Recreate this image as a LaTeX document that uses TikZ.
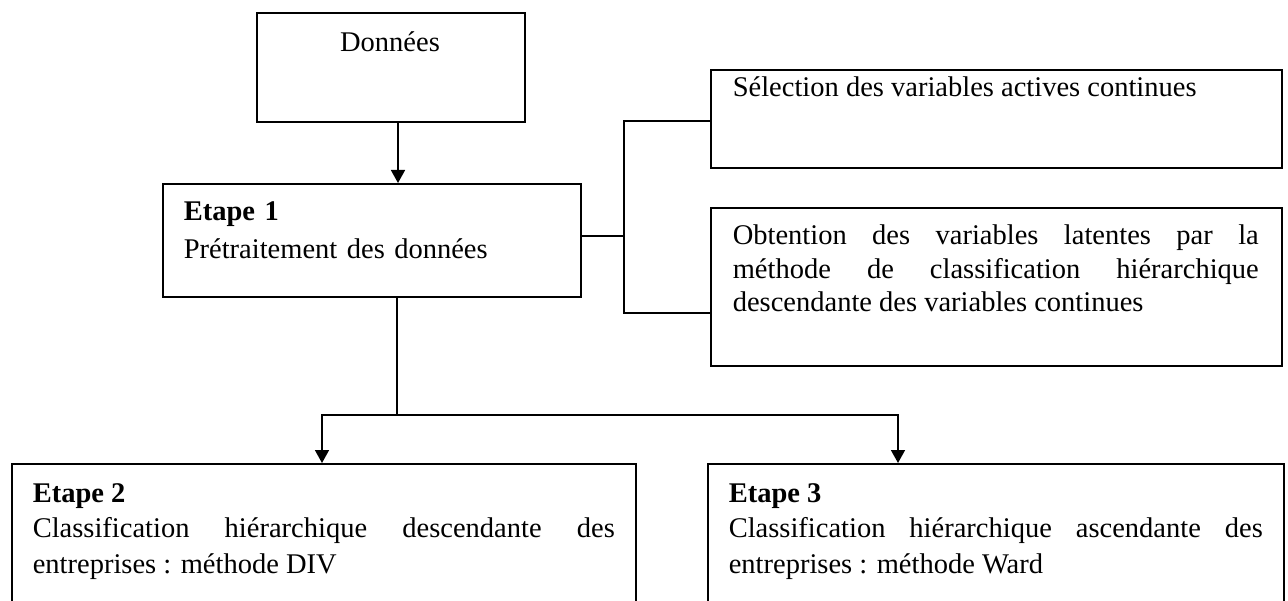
\documentclass[tikz,border=0pt]{standalone}
\usepackage{fontspec}
\setmainfont{Liberation Serif}
\usetikzlibrary{arrows.meta}
\tolerance=10000
\hbadness=10000
\begin{document}
\begin{tikzpicture}[x=1pt,y=-1pt,line width=1.6pt,
  every node/.style={font=\fontsize{28.5}{35.5}\selectfont,inner sep=0pt},
  box/.style={draw,anchor=north west},
  txt/.style={anchor=base west,align=justify},
  arr/.style={-{Triangle[width=14pt,length=13pt]}}]
\useasboundingbox (0,0) rectangle (1288,601);
\clip (0,0) rectangle (1288,601);
\node[box,minimum width=268,minimum height=109] (donnees) at (256,12) {};
\node[box,minimum width=418,minimum height=113] (etape1) at (162,183) {};
\node[box,minimum width=571,minimum height=98] (sel) at (710,69) {};
\node[box,minimum width=571,minimum height=158] (obt) at (710,207) {};
\node[box,minimum width=624,minimum height=200] (etape2) at (11,463) {};
\node[box,minimum width=576,minimum height=200] (etape3) at (707,463) {};
\node[anchor=base] (donnees-txt) at (390,52) {Données};
\node[txt,align=left,text width=390,font=\fontsize{28.5}{38}\selectfont] (etape1-txt) at (183,221)
  {\textbf{Etape 1}\par Prétraitement des données};
\node[txt,align=left] (sel-txt) at (732,97) {Sélection des variables actives continues};
\node[txt,text width=526,font=\fontsize{28.5}{33.5}\selectfont] (obt-txt) at (732,245)
  {Obtention des variables latentes par la\linebreak méthode de classification hiérarchique\linebreak descendante des variables continues};
\node[txt,text width=582] (etape2-txt) at (32,502)
  {\textbf{Etape 2}\par Classification hiérarchique descendante des\linebreak entreprises : méthode DIV};
\node[txt,text width=534] (etape3-txt) at (728,502)
  {\textbf{Etape 3}\par Classification hiérarchique ascendante des\linebreak entreprises : méthode Ward};
\coordinate (spine) at (398,0);
\coordinate (brk-top) at (624,121);
\coordinate (brk-mid) at (624,236);
\coordinate (brk-bot) at (624,313);
\coordinate (fork) at (397,415);
\coordinate (fork-l) at (322,415);
\coordinate (fork-r) at (898,415);
\draw[arr] (donnees.south -| spine) -- (etape1.north -| spine);
\draw (etape1.east |- brk-mid) -- (brk-mid);
\draw (sel.west |- brk-top) -- (brk-top) -- (brk-bot) -- (obt.west |- brk-bot);
\draw (etape1.south -| fork) -- (fork);
\draw[arr] (fork) -| (etape2.north -| fork-l);
\draw[arr] (fork) -| (etape3.north -| fork-r);
\end{tikzpicture}
\end{document}
